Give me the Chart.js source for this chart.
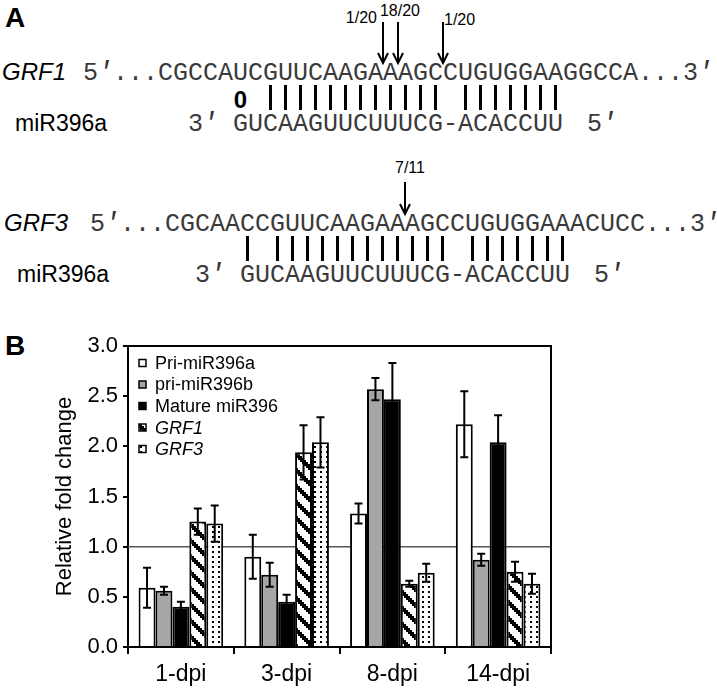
<!DOCTYPE html>
<html>
<head>
<meta charset="utf-8">
<script src="https://cdn.jsdelivr.net/npm/chart.js@4.4.1/dist/chart.umd.min.js"></script>
<style>
    html, body { margin: 0; padding: 0; background: #fff; }
    #page { position: relative; width: 717px; height: 688px; overflow: hidden; }
    #panelA { position: absolute; left: 0; top: 0; }
    #foldChart { position: absolute; left: 0; top: 320px; }
</style>
</head>
<body>
<div id="page">
    <svg id="panelA" width="717" height="688"></svg>
    <canvas id="foldChart" width="717" height="368"></canvas>
</div>
<script>
// ---- Panel B data ----
const dpiLabels = ['1-dpi', '3-dpi', '8-dpi', '14-dpi'];
const seriesNames = ['Pri-miR396a', 'pri-miR396b', 'Mature miR396', 'GRF1', 'GRF3'];

const priMiR396a = [0.59, 0.90, 1.33, 2.22];
const priMiR396aErr = [0.20, 0.22, 0.10, 0.33];
const priMiR396b = [0.56, 0.72, 2.57, 0.87];
const priMiR396bErr = [0.04, 0.12, 0.11, 0.06];
const matureMiR396 = [0.40, 0.45, 2.47, 2.04];
const matureMiR396Err = [0.05, 0.07, 0.36, 0.27];
const grf1 = [1.25, 1.94, 0.63, 0.75];
const grf1Err = [0.13, 0.27, 0.03, 0.10];
const grf3 = [1.23, 2.04, 0.74, 0.63];
const grf3Err = [0.18, 0.25, 0.09, 0.10];

const yMin = 0;
const yMax = 3;
const yStep = 0.5;
const referenceLevel = 1.0;

// ---- Panel A data ----
const grf1Target = 'CGCCAUCGUUCAAGAAAGCCUGUGGAAGGCCA';
const grf3Target = 'CGCAACCGUUCAAGAAAGCCUGUGGAAACUCC';
const miR396a = 'GUCAAGUUCUUUCG-ACACCUU'; // written 3' -> 5'
const grf1Cuts = [15, 16, 19];
const grf1CutLabels = ['1/20', '18/20', '1/20'];
const grf3Cuts = [16];
const grf3CutLabels = ['7/11'];

const SANS = '"Liberation Sans", Arial, sans-serif';
const MONO = '"Liberation Mono", "Courier New", monospace';
const SVG_NS = 'http://www.w3.org/2000/svg';
const svg = document.getElementById('panelA');
const pitch = 15;

function addText(str, x, y, opts = {}) {
    const t = document.createElementNS(SVG_NS, 'text');
    t.textContent = str;
    t.setAttribute('x', Array.isArray(x) ? x.join(' ') : x);
    t.setAttribute('y', y);
    t.setAttribute('font-family', opts.family || SANS);
    t.setAttribute('font-size', opts.size || 16);
    if (opts.weight) t.setAttribute('font-weight', opts.weight);
    if (opts.style) t.setAttribute('font-style', opts.style);
    if (opts.anchor) t.setAttribute('text-anchor', opts.anchor);
    t.setAttribute('fill', opts.color || '#000');
    svg.appendChild(t);
}

function addLine(x1, y1, x2, y2, w) {
    const l = document.createElementNS(SVG_NS, 'line');
    l.setAttribute('x1', x1); l.setAttribute('y1', y1);
    l.setAttribute('x2', x2); l.setAttribute('y2', y2);
    l.setAttribute('stroke', '#000');
    l.setAttribute('stroke-width', w);
    svg.appendChild(l);
}

// monospaced row; letters in one run, prime marks drawn slanted on their own
function monoRow(str, x0, y) {
    const chars = [...str];
    const letters = [];
    const xs = [];
    chars.forEach((c, i) => {
        if (c === '\u2032') {
            addText('\u2032', x0 + i * pitch - 1, y, { family: MONO, size: 27, style: 'italic', color: '#333' });
        } else if (c !== ' ') {
            letters.push(c);
            xs.push(x0 + i * pitch);
        }
    });
    if (letters.length) addText(letters.join(''), xs, y, { family: MONO, size: 25, color: '#3a3a3a' });
}

const pairing = { AU: '|', UA: '|', GC: '|', CG: '|', GU: '0', UG: '0' };

function drawDuplex(block) {
    const { name, nameX, x0, base, target, cuts, cutLabels, labelPos, arrowTop } = block;
    addText(name, nameX, base, { size: 24, style: 'italic' });
    monoRow('5\u2032...' + target + '...3\u2032', x0, base);

    // miRNA row (starts under target position 5)
    const mirBase = base + 51;
    addText('miR396a', nameX + 13, mirBase, { size: 23 });
    monoRow('3\u2032', x0 + 7 * pitch, mirBase);
    monoRow(miR396a, x0 + 10 * pitch, mirBase);
    monoRow('5\u2032', x0 + 33.6 * pitch, mirBase);

    // pairing marks
    [...miR396a].forEach((m, i) => {
        const t = target[5 + i];
        const mark = pairing[t + m];
        const cx = x0 + (10 + i) * pitch + pitch / 2;
        if (mark === '|') addLine(cx, base + 5, cx, base + 30, 3);
        else if (mark === '0') addText('0', cx, base + 28, { size: 24, weight: 'bold', anchor: 'middle' });
    });

    // cleavage arrows
    cuts.forEach((c, k) => {
        const x = x0 + (5 + c) * pitch;
        const tip = base - 17;
        addLine(x, arrowTop, x, tip, 2);
        const head = document.createElementNS(SVG_NS, 'polyline');
        head.setAttribute('points', `${x - 5},${tip - 10} ${x},${tip} ${x + 5},${tip - 10}`);
        head.setAttribute('fill', 'none');
        head.setAttribute('stroke', '#000');
        head.setAttribute('stroke-width', 2);
        svg.appendChild(head);
        const p = labelPos[k];
        addText(cutLabels[k], x + p.dx, p.y, { size: 16, anchor: p.anchor });
    });
}

addText('A', 5, 27, { size: 28, weight: 'bold' });
addText('B', 5, 355, { size: 28, weight: 'bold' });

drawDuplex({
    name: 'GRF1', nameX: 2, x0: 83, base: 80, target: grf1Target,
    cuts: grf1Cuts, cutLabels: grf1CutLabels, arrowTop: 22,
    labelPos: [{ dx: -6, y: 23, anchor: 'end' }, { dx: 2, y: 16, anchor: 'middle' }, { dx: 1, y: 25, anchor: 'start' }]
});
drawDuplex({
    name: 'GRF3', nameX: 4, x0: 90, base: 231, target: grf3Target,
    cuts: grf3Cuts, cutLabels: grf3CutLabels, arrowTop: 182,
    labelPos: [{ dx: 5, y: 173, anchor: 'middle' }]
});

// ---- Panel B chart ----
function stripePattern() {
    const c = document.createElement('canvas');
    c.width = 16; c.height = 16;
    const g = c.getContext('2d');
    g.fillStyle = '#fff';
    g.fillRect(0, 0, 16, 16);
    g.fillStyle = '#000';
    for (let y = 0; y < 16; y += 2) {
        for (let k = 0; k < 6; k++) {
            g.fillRect((y + k) % 16, y, 1, 2);
        }
    }
    return g.createPattern(c, 'repeat');
}

function dotPattern() {
    const c = document.createElement('canvas');
    c.width = 6; c.height = 5;
    const g = c.getContext('2d');
    g.fillStyle = '#fff';
    g.fillRect(0, 0, 6, 5);
    g.fillStyle = '#000';
    g.fillRect(2, 1, 2, 2);
    return g.createPattern(c, 'repeat');
}

// horizontal line at 1.0 behind the bars, frame on top/right
const frameAndReference = {
    id: 'frameAndReference',
    beforeDatasetsDraw(chart) {
        const { ctx, chartArea } = chart;
        const y = chart.scales.y.getPixelForValue(referenceLevel);
        ctx.save();
        ctx.strokeStyle = '#555';
        ctx.lineWidth = 1.5;
        ctx.beginPath();
        ctx.moveTo(chartArea.left, y);
        ctx.lineTo(chartArea.right, y);
        ctx.stroke();
        ctx.restore();
    },
    afterDraw(chart) {
        const { ctx, chartArea } = chart;
        ctx.save();
        ctx.strokeStyle = '#000';
        ctx.lineWidth = 2;
        ctx.beginPath();
        ctx.moveTo(chartArea.left, chartArea.top);
        ctx.lineTo(chartArea.right, chartArea.top);
        ctx.lineTo(chartArea.right, chartArea.bottom);
        ctx.stroke();
        ctx.restore();
    }
};

const errorBars = {
    id: 'errorBars',
    afterDatasetsDraw(chart) {
        const { ctx } = chart;
        const yScale = chart.scales.y;
        ctx.save();
        ctx.strokeStyle = '#000';
        ctx.lineWidth = 2;
        chart.data.datasets.forEach((ds, i) => {
            chart.getDatasetMeta(i).data.forEach((bar, j) => {
                const v = ds.data[j];
                const e = ds.errors[j];
                const top = yScale.getPixelForValue(v + e);
                const bot = yScale.getPixelForValue(v - e);
                ctx.beginPath();
                ctx.moveTo(bar.x, top); ctx.lineTo(bar.x, bot);
                ctx.moveTo(bar.x - 4, top); ctx.lineTo(bar.x + 4, top);
                ctx.moveTo(bar.x - 4, bot); ctx.lineTo(bar.x + 4, bot);
                ctx.stroke();
            });
        });
        ctx.restore();
    }
};

const insideLegend = {
    id: 'insideLegend',
    afterDraw(chart) {
        const { ctx, chartArea } = chart;
        ctx.save();
        ctx.textBaseline = 'middle';
        chart.data.datasets.forEach((ds, i) => {
            const y = chartArea.top + 17 + i * 21.5;
            const x = chartArea.left + 11;
            ctx.fillStyle = ds.backgroundColor;
            ctx.fillRect(x, y - 3.5, 7, 7);
            ctx.strokeStyle = '#000';
            ctx.lineWidth = 1.5;
            ctx.strokeRect(x, y - 3.5, 7, 7);
            ctx.fillStyle = '#000';
            ctx.font = (ds.italicLabel ? 'italic ' : '') + '18px ' + SANS;
            ctx.fillText(ds.label, x + 16, y + 1);
        });
        ctx.restore();
    }
};

const fold = new Chart(document.getElementById('foldChart'), {
    type: 'bar',
    data: {
        labels: dpiLabels,
        datasets: [
            { label: seriesNames[0], data: priMiR396a, errors: priMiR396aErr, backgroundColor: '#ffffff' },
            { label: seriesNames[1], data: priMiR396b, errors: priMiR396bErr, backgroundColor: '#a6a6a6' },
            { label: seriesNames[2], data: matureMiR396, errors: matureMiR396Err, backgroundColor: '#000000' },
            { label: seriesNames[3], data: grf1, errors: grf1Err, backgroundColor: stripePattern(), italicLabel: true },
            { label: seriesNames[4], data: grf3, errors: grf3Err, backgroundColor: dotPattern(), italicLabel: true }
        ]
    },
    options: {
        responsive: false,
        animation: false,
        layout: { padding: { left: 48, right: 166, top: 26, bottom: 0 } },
        datasets: {
            bar: {
                categoryPercentage: 0.8,
                barPercentage: 1.0,
                borderColor: '#000',
                borderWidth: 2
            }
        },
        plugins: {
            legend: { display: false },
            tooltip: { enabled: false }
        },
        scales: {
            x: {
                offset: true,
                grid: { offset: true, drawOnChartArea: false, tickLength: 7, color: '#000', lineWidth: 2 },
                border: { display: true, color: '#000', width: 2 },
                ticks: { color: '#000', font: { family: SANS, size: 23 }, padding: 7, maxRotation: 0 },
                afterFit: (scale) => { scale.height = 41; }
            },
            y: {
                min: yMin,
                max: yMax,
                ticks: {
                    stepSize: yStep,
                    color: '#000',
                    font: { family: SANS, size: 22 },
                    padding: 5,
                    callback: (v) => Number(v).toFixed(1)
                },
                grid: { drawOnChartArea: false, tickLength: 5, color: '#000', lineWidth: 2 },
                border: { display: true, color: '#000', width: 2 },
                title: {
                    display: true,
                    text: 'Relative fold change',
                    color: '#000',
                    font: { family: SANS, size: 22 },
                    padding: { top: 4, bottom: 0 }
                },
                afterFit: (scale) => { scale.width = 80; }
            }
        }
    },
    plugins: [frameAndReference, errorBars, insideLegend]
});
</script>
</body>
</html>
